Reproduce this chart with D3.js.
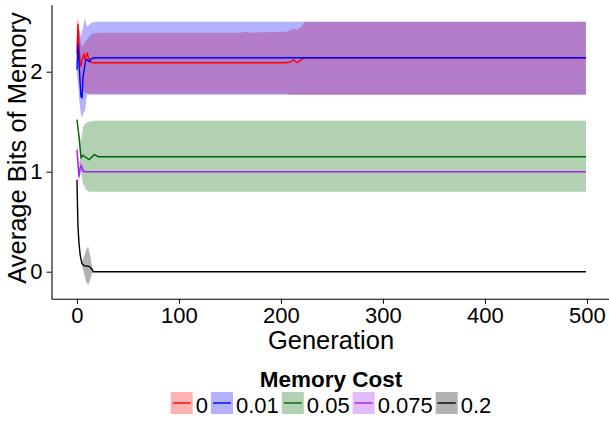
<!DOCTYPE html>
<html>
<head>
<meta charset="utf-8">
<script src="https://cdn.jsdelivr.net/npm/d3@7"></script>
<style>
  body { margin: 0; background: #fff; }
  svg { display: block; font-family: "Liberation Sans", Arial, sans-serif; }
</style>
</head>
<body>
<svg id="chart" width="609" height="422"></svg>
<script>
// rows: [generation, mean, lower, upper]
const cost0 = [
  [0, 2.18, 2.06, 2.49], [1, 2.48, 2.30, 2.55], [2, 2.25, 2.00, 2.45], [3, 2.10, 1.90, 2.33],
  [4, 2.05, 1.85, 2.29], [5, 2.12, 1.82, 2.25], [7, 2.18, 1.80, 2.28], [8, 2.11, 1.79, 2.30],
  [10, 2.19, 1.78, 2.32], [12, 2.11, 1.78, 2.35], [15, 2.09, 1.78, 2.38], [20, 2.09, 1.78, 2.39],
  [100, 2.09, 1.78, 2.39], [160, 2.09, 1.78, 2.39], [165, 2.09, 1.78, 2.40], [170, 2.09, 1.78, 2.39],
  [205, 2.09, 1.78, 2.40], [210, 2.10, 1.77, 2.42], [212, 2.12, 1.77, 2.43], [216, 2.09, 1.77, 2.42],
  [220, 2.12, 1.77, 2.45], [223, 2.14, 1.77, 2.50], [499, 2.14, 1.77, 2.50]
];
const cost001 = [
  [0, 2.02, 1.95, 2.32], [1, 2.28, 1.90, 2.38], [2, 2.10, 1.75, 2.42], [3, 1.90, 1.65, 2.40],
  [4, 1.75, 1.57, 2.35], [5, 1.74, 1.54, 2.40], [6, 1.95, 1.58, 2.45], [8, 2.08, 1.62, 2.54],
  [9, 2.12, 1.70, 2.48], [10, 2.12, 1.78, 2.45], [12, 2.10, 1.77, 2.47], [14, 2.13, 1.77, 2.49],
  [18, 2.14, 1.77, 2.50], [499, 2.14, 1.77, 2.50]
];
const cost005 = [
  [0, 1.52, 1.52, 1.52], [2, 1.35, 1.30, 1.40], [4, 1.14, 1.00, 1.30], [6, 1.165, 0.88, 1.45],
  [9, 1.14, 0.82, 1.49], [12, 1.12, 0.80, 1.50], [17, 1.17, 0.80, 1.51], [21, 1.15, 0.80, 1.51],
  [499, 1.15, 0.80, 1.51]
];
const cost0075 = [
  [0, 1.22, 1.15, 1.28], [1, 1.08, 0.95, 1.22], [2, 0.95, 0.88, 1.10], [3, 1.03, 0.95, 1.12],
  [4, 1.06, 1.00, 1.10], [7, 1.00, 1.00, 1.00], [499, 1.00, 1.00, 1.00]
];
const cost02 = [
  [0, 0.92, 0.92, 0.92], [1, 0.45, 0.45, 0.45], [2, 0.29, 0.29, 0.29], [3, 0.18, 0.18, 0.18],
  [4, 0.12, 0.12, 0.12], [5, 0.08, 0.06, 0.10], [7, 0.06, -0.02, 0.15], [9, 0.057, -0.10, 0.22],
  [11, 0.055, -0.13, 0.25], [13, 0.045, -0.08, 0.16], [15, 0.02, -0.01, 0.04], [16, 0, 0, 0],
  [499, 0, 0, 0]
];

const costLabels = ["0", "0.01", "0.05", "0.075", "0.2"];
const xTicks = [0, 100, 200, 300, 400, 500];
const yTicks = [0, 1, 2];

const seriesData = [cost0, cost001, cost005, cost0075, cost02];
const colors = ["#ff0000", "#0000ff", "#006400", "#a020f0", "#000000"];

const svg = d3.select("#chart");

const x = d3.scaleLinear().domain([-24.95, 523.95]).range([51.5, 611.4]);
const y = d3.scaleLinear().domain([-0.27, 2.67]).range([298.7, 4.7]);

const area = d3.area()
  .x(d => x(d[0]))
  .y0(d => y(d[2]))
  .y1(d => y(d[3]));

const line = d3.line()
  .x(d => x(d[0]))
  .y(d => y(d[1]));

// ribbons first, then lines on top
svg.append("g")
  .selectAll("path")
  .data(seriesData)
  .join("path")
    .attr("d", area)
    .attr("fill", (d, i) => colors[i])
    .attr("fill-opacity", 0.3);

svg.append("g")
  .selectAll("path")
  .data(seriesData)
  .join("path")
    .attr("d", line)
    .attr("fill", "none")
    .attr("stroke", (d, i) => colors[i])
    .attr("stroke-width", 1.4);

// axes
const xAxis = svg.append("g")
  .attr("transform", `translate(0,${y.range()[0]})`)
  .call(d3.axisBottom(x).tickValues(xTicks).tickSize(5).tickSizeOuter(0).tickPadding(4));

const yAxis = svg.append("g")
  .attr("transform", `translate(${x.range()[0]},0)`)
  .call(d3.axisLeft(y).tickValues(yTicks).tickFormat(d3.format("d"))
    .tickSize(5).tickSizeOuter(0).tickPadding(4));

[xAxis, yAxis].forEach(g => {
  g.select(".domain").attr("stroke", "#000").attr("stroke-width", 1.1);
  g.selectAll(".tick line").attr("stroke", "#000");
  g.selectAll(".tick text")
    .attr("fill", "#000")
    .style("font-size", "22px")
    .style("font-family", "'Liberation Sans', Arial, sans-serif");
});

svg.append("text")
  .attr("x", 331)
  .attr("y", 349)
  .attr("text-anchor", "middle")
  .style("font-size", "25.5px")
  .text("Generation");

svg.append("text")
  .attr("transform", "translate(26,148) rotate(-90)")
  .attr("text-anchor", "middle")
  .style("font-size", "25.5px")
  .text("Average Bits of Memory");

// legend
const legend = svg.append("g");
legend.append("text")
  .attr("x", 331)
  .attr("y", 387)
  .attr("text-anchor", "middle")
  .style("font-size", "22.5px")
  .style("font-weight", "bold")
  .text("Memory Cost");

const keySize = 22;
const items = legend.selectAll("g.item")
  .data(costLabels)
  .join("g")
    .attr("class", "item");

items.append("rect")
  .attr("width", keySize)
  .attr("height", keySize)
  .attr("fill", (d, i) => colors[i])
  .attr("fill-opacity", 0.3);

items.append("line")
  .attr("x1", 2).attr("x2", keySize - 2)
  .attr("y1", keySize / 2).attr("y2", keySize / 2)
  .attr("stroke", (d, i) => colors[i])
  .attr("stroke-width", 1.4);

items.append("text")
  .attr("x", keySize + 3)
  .attr("y", keySize - 1)
  .style("font-size", "22px")
  .text(d => d);

let offsets = [], pos = 0;
items.each(function() {
  const w = d3.select(this).select("text").node().getComputedTextLength();
  offsets.push(pos);
  pos += keySize + 3 + w + 3;
});
const total = pos - 3;
const start = 331 - total / 2;
items.attr("transform", (d, i) => `translate(${start + offsets[i]},392)`);
</script>
</body>
</html>
